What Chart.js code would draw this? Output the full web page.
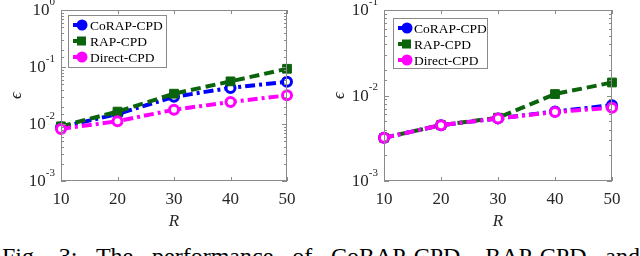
<!DOCTYPE html>
<html>
<head>
<meta charset="utf-8">
<script src="https://cdn.jsdelivr.net/npm/chart.js@4"></script>
<style>
  body { margin: 0; background: #fff; }
  #wrap { position: relative; width: 640px; height: 256px; overflow: hidden; background: #fff; }
  .pane { position: absolute; top: 0; width: 320px; height: 240px; }
  #caption {
    position: absolute; left: 2px; top: 244px; width: 638px;
    font-family: "Liberation Serif", serif; font-size: 24px; line-height: 24px;
    text-align: justify; text-align-last: justify; color: #000; white-space: nowrap;
  }
</style>
</head>
<body>
<div id="wrap">
  <div class="pane" style="left:0"><canvas id="left" width="320" height="240"></canvas></div>
  <div class="pane" style="left:320px"><canvas id="right" width="320" height="240"></canvas></div>
  <div id="caption">Fig. 3: The performance of CoRAP-CPD, RAP-CPD and</div>
</div>
<script>
const rangos = [10, 20, 30, 40, 50];
const nomes = ['CoRAP-CPD', 'RAP-CPD', 'Direct-CPD'];

// grafico da esquerda
const coragEsq = [0.0088, 0.015, 0.030, 0.043, 0.055];
const rapEsq = [0.0091, 0.0165, 0.034, 0.056, 0.093];
const diretoEsq = [0.0082, 0.0112, 0.0178, 0.0243, 0.0318];

// grafico da direita
const coragDir = [0.0032, 0.0045, 0.0054, 0.0065, 0.0077];
const rapDir = [0.0032, 0.0045, 0.0055, 0.0104, 0.0142];
const diretoDir = [0.0032, 0.0045, 0.0054, 0.0064, 0.0072];

const fonte = '"Liberation Serif", "Times New Roman", serif';
const corTexto = '#262626';
const corEixo = '#8a8a8a';

const cores = ['#0000ff', '#0b640b', '#ff00ff'];
const tracos = [[10, 4, 3, 4], [10, 5], [10, 4, 3, 4]];

// eixos no estilo matlab, ticks para dentro, legenda em caixa
const eixosMatlab = {
  id: 'eixosMatlab',
  afterDraw(chart, args, opts) {
    const c = chart.ctx;
    const a = chart.chartArea;
    const ys = chart.scales.y;
    const xs = chart.scales.x;
    c.save();
    c.strokeStyle = corEixo;
    c.lineWidth = 1;
    c.setLineDash([]);
    c.strokeRect(a.left + 0.5, a.top + 0.5, a.right - a.left - 1, a.bottom - a.top - 1);

    c.beginPath();
    ys.ticks.forEach(t => {
      const p = Math.round(ys.getPixelForValue(t.value)) + 0.5;
      const maior = Math.abs(Math.log10(t.value) - Math.round(Math.log10(t.value))) < 1e-6;
      const len = maior ? 5 : 3;
      c.moveTo(a.left, p); c.lineTo(a.left + len, p);
      c.moveTo(a.right, p); c.lineTo(a.right - len, p);
    });
    rangos.forEach((r, i) => {
      const p = Math.round(xs.getPixelForValue(i)) + 0.5;
      c.moveTo(p, a.bottom); c.lineTo(p, a.bottom - 4);
      c.moveTo(p, a.top); c.lineTo(p, a.top + 4);
    });
    c.stroke();

    // rotulos do eixo y com expoente
    c.fillStyle = corTexto;
    c.textBaseline = 'middle';
    ys.ticks.forEach(t => {
      const e = Math.log10(t.value);
      if (Math.abs(e - Math.round(e)) > 1e-6) return;
      const p = ys.getPixelForValue(t.value);
      const exp = String(Math.round(e));
      c.font = '11px ' + fonte;
      const we = c.measureText(exp).width;
      c.textAlign = 'left';
      const xr = a.left - 6;
      c.fillText(exp, xr - we, p - 8);
      c.font = '17px ' + fonte;
      c.textAlign = 'right';
      c.fillText('10', xr - we, p + 1);
    });

    // legenda
    const L = opts.caixa;
    c.fillStyle = '#fff';
    c.fillRect(L.x, L.y, L.w, L.h);
    c.strokeStyle = corEixo;
    c.strokeRect(L.x + 0.5, L.y + 0.5, L.w, L.h);
    c.font = '13.5px ' + fonte;
    c.textAlign = 'left';
    c.textBaseline = 'middle';
    nomes.forEach((n, i) => {
      const y = L.y + 10 + i * 16;
      c.strokeStyle = cores[i];
      c.lineWidth = 4;
      c.beginPath();
      c.moveTo(L.x + 5, y); c.lineTo(L.x + 13, y);
      c.stroke();
      c.fillStyle = cores[i];
      c.beginPath();
      if (i === 1) {
        c.fillRect(L.x + 9, y - 4.5, 9, 9);
      } else {
        c.arc(L.x + 14, y, 5.5, 0, Math.PI * 2);
        c.fill();
      }
      c.fillStyle = '#000';
      c.fillText(n, L.x + L.tx, y + 1);
    });
    c.restore();
  }
};

function montar(id, series, yMax, padDir, larguraY, padTitulo, caixa) {
  const ctx = document.getElementById(id).getContext('2d');
  const ordem = [2, 1, 0];
  return new Chart(ctx, {
    type: 'line',
    data: {
      labels: rangos,
      datasets: series.map((s, i) => ({
        label: nomes[i],
        data: s,
        borderColor: cores[i],
        borderWidth: 4,
        borderDash: tracos[i],
        fill: false,
        tension: 0,
        order: ordem[i],
        clip: false,
        pointStyle: i === 1 ? 'rect' : 'circle',
        pointRadius: i === 1 ? 6.2 : 4.5,
        pointBorderWidth: i === 1 ? 1 : 3,
        pointBackgroundColor: i === 1 ? cores[i] : '#fff',
        pointBorderColor: cores[i]
      }))
    },
    options: {
      responsive: false,
      animation: false,
      layout: { padding: { left: 0, right: padDir, top: 10, bottom: 0 } },
      scales: {
        x: {
          type: 'category',
          offset: false,
          grid: { display: false, drawTicks: false },
          border: { display: false },
          ticks: { color: corTexto, font: { family: fonte, size: 17 }, padding: 8, maxRotation: 0 },
          title: { display: true, text: 'R', color: corTexto, font: { family: fonte, size: 17, style: 'italic' }, padding: { top: 0, bottom: 8 } },
          afterFit: s => { s.height = 59; }
        },
        y: {
          type: 'logarithmic',
          min: 0.001,
          max: yMax,
          grid: { display: false, drawTicks: false },
          border: { display: false },
          ticks: { display: false },
          title: { display: true, text: 'ϵ', color: corTexto, font: { family: fonte, size: 17, style: 'italic' }, padding: { top: padTitulo, bottom: 0 } },
          afterFit: s => { s.width = larguraY; }
        }
      },
      plugins: {
        legend: { display: false },
        tooltip: { enabled: false },
        eixosMatlab: { caixa: caixa }
      }
    },
    plugins: [eixosMatlab]
  });
}

montar('left', [coragEsq, rapEsq, diretoEsq], 1, 33, 61, 6, { x: 68, y: 15, w: 98, h: 52, tx: 22 });
montar('right', [coragDir, rapDir, diretoDir], 0.1, 28, 64, 9, { x: 73, y: 18, w: 94, h: 50, tx: 21 });
</script>
</body>
</html>
